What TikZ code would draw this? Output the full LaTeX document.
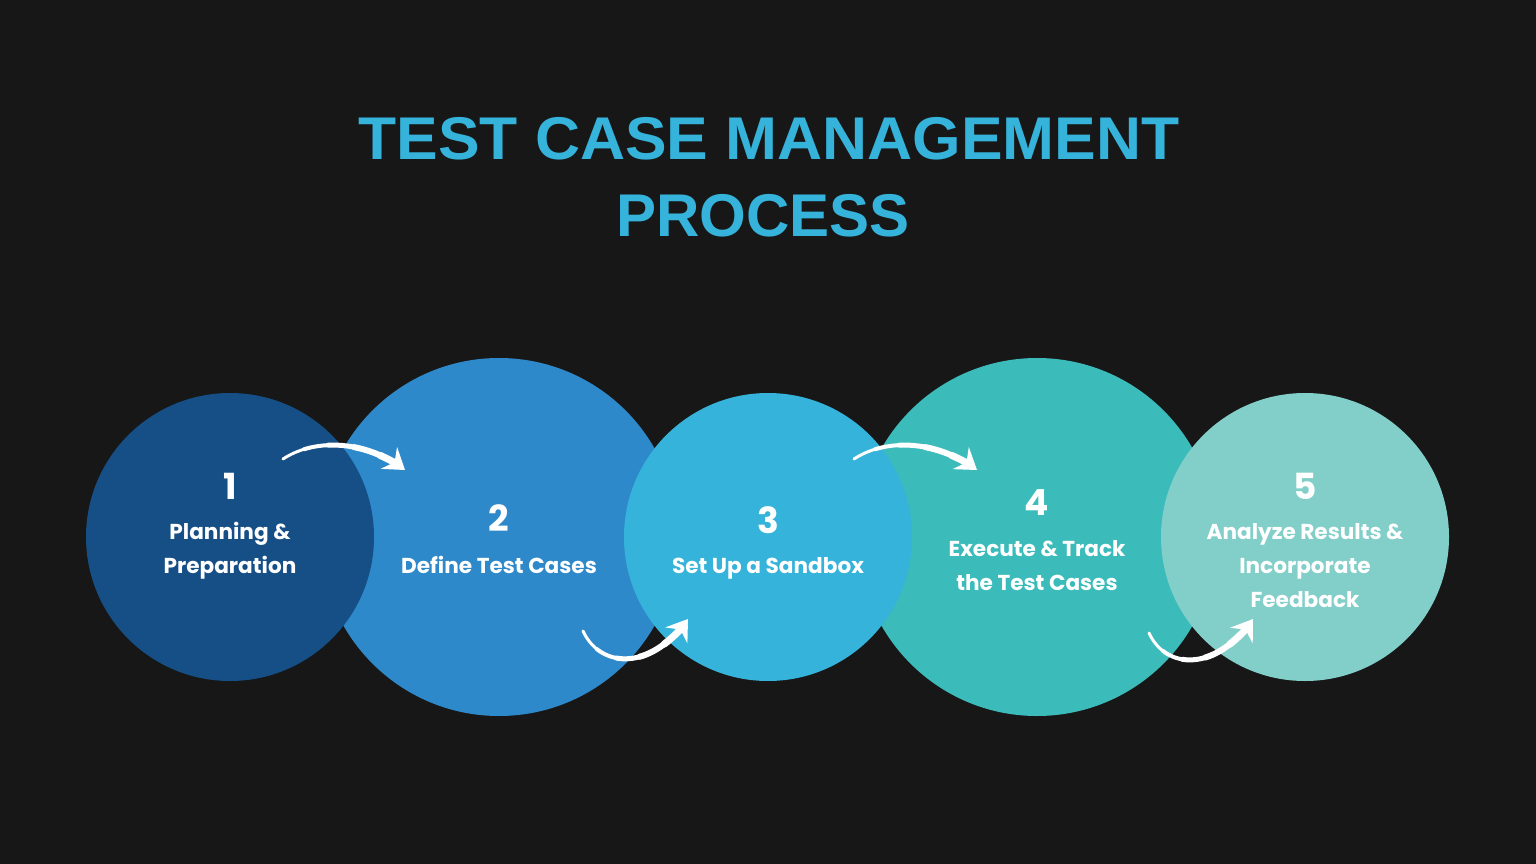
\documentclass[tikz,border=0pt]{standalone}
\usepackage{fontspec}
\setmainfont{Liberation Sans}
\newfontfamily\titlefont{Liberation Sans}
\newfontfamily\labfont{Poppins}
\usetikzlibrary{arrows.meta}
\definecolor{bg}{HTML}{171717}
\definecolor{ttl}{HTML}{35B3DB}
\definecolor{cone}{HTML}{154F86}
\definecolor{ctwo}{HTML}{2E89CB}
\definecolor{cthree}{HTML}{35B3DA}
\definecolor{cfour}{HTML}{3CBBBB}
\definecolor{cfive}{HTML}{82CFC9}
\tikzset{
  titletext/.style={text=ttl, inner sep=0, font=\titlefont\bfseries\fontsize{58}{60}\selectfont},
  bigcirc/.style={circle, minimum size=358pt, inner sep=0},
  smallcirc/.style={circle, minimum size=288pt, inner sep=0},
  numtext/.style={text=white, inner sep=0, font=\labfont\bfseries\fontsize{36}{40}\selectfont},
  labtext/.style={text=white, inner sep=0, align=center, font=\labfont\bfseries\fontsize{21.6}{34}\selectfont}
}
\newcommand{\taperarrow}[4]{%
  \begin{scope}
  \pgfsetroundcap
  \pgfsetstrokecolor{white}
  \pgfsetfillcolor{white}
  \foreach \ta/\tb/\w in {0/0.22/3, 0.2/0.42/4, 0.4/0.62/5, 0.6/0.82/6, 0.8/1/7}{%
    \pgfsetlinewidth{\w pt}%
    \ifdim\tb pt=1pt \pgfsetarrowsend{Stealth[length=20pt,width=27pt,inset=7pt]}\fi
    \pgfpathcurvebetweentime{\ta}{\tb}{#1}{#2}{#3}{#4}%
    \pgfusepath{stroke}%
  }
  \end{scope}}
\begin{document}
\begin{tikzpicture}[x=1pt,y=-1pt]
\fill[bg] (0,0) rectangle (1536,864);
\useasboundingbox (0,0) rectangle (1536,864);
\node[titletext] (t1) at (769,139) {\scalebox{1.075}[1.04]{TEST CASE MANAGEMENT}};
\node[titletext] (t2) at (763,216) {\scalebox{1.035}[1.04]{PROCESS}};
% big circles
\node[bigcirc, fill=ctwo] (c2) at (499,537) {};
\node[bigcirc, fill=cfour] (c4) at (1037,537) {};
% small circles on top
\node[smallcirc, fill=cone] (c1) at (230,537) {};
\node[smallcirc, fill=cthree] (c3) at (768,537) {};
\node[smallcirc, fill=cfive] (c5) at (1305,537) {};
% numbers
\node[numtext] (n1) at (230,486) {1};
\node[numtext] (n2) at (499,518) {2};
\node[numtext] (n3) at (768,520) {3};
\node[numtext] (n4) at (1037,503) {4};
\node[numtext] (n5) at (1305,486) {5};
% labels
\node[labtext] (l1) at (230,551) {Planning \&\\Preparation};
\node[labtext] (l2) at (499,565) {Define Test Cases};
\node[labtext] (l3) at (768,568) {Set Up a Sandbox};
\node[labtext] (l4) at (1037,566) {Execute \& Track\\the Test Cases};
\node[labtext] (l5) at (1305,566) {Analyze Results \&\\Incorporate\\Feedback};
% arrows
\coordinate (a1s) at (283,459);
\coordinate (a1e) at (405,470);
\coordinate (a2s) at (583,631);
\coordinate (a2e) at (688,619);
\coordinate (a3s) at (854,459);
\coordinate (a3e) at (977,470);
\coordinate (a4s) at (1149,633);
\coordinate (a4e) at (1253,619);
\taperarrow{\pgfpointanchor{a1s}{center}}{\pgfpointxy{315}{438}}{\pgfpointxy{365}{440}}{\pgfpointanchor{a1e}{center}}
\taperarrow{\pgfpointanchor{a2s}{center}}{\pgfpointxy{600}{668}}{\pgfpointxy{650}{672}}{\pgfpointanchor{a2e}{center}}
\taperarrow{\pgfpointanchor{a3s}{center}}{\pgfpointxy{886}{438}}{\pgfpointxy{936}{440}}{\pgfpointanchor{a3e}{center}}
\taperarrow{\pgfpointanchor{a4s}{center}}{\pgfpointxy{1166}{670}}{\pgfpointxy{1216}{672}}{\pgfpointanchor{a4e}{center}}
\end{tikzpicture}
\end{document}
